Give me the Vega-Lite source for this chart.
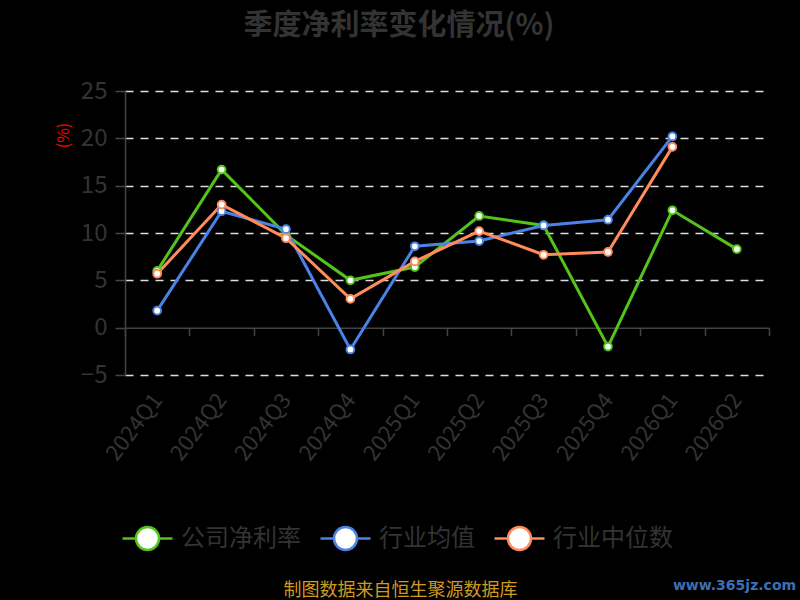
{
  "$schema": "https://vega.github.io/schema/vega-lite/v6.json",
  "autosize": "none",
  "width": 644,
  "height": 284,
  "padding": {"left": 125, "top": 91, "right": 31, "bottom": 225},
  "background": "#000000",
  "title": {
    "text": "季度净利率变化情况(%)",
    "font": "Noto Sans CJK SC",
    "fontSize": 29,
    "fontWeight": "bold",
    "color": "#333333",
    "anchor": "middle",
    "dx": -48,
    "offset": 38
  },
  "config": {
    "view": {"stroke": null},
    "font": "Noto Sans CJK SC"
  },
  "data": {
    "values": [
      {"quarter": "2024Q1", "series": "公司净利率", "value": 6.0},
      {"quarter": "2024Q2", "series": "公司净利率", "value": 16.7},
      {"quarter": "2024Q3", "series": "公司净利率", "value": 9.8},
      {"quarter": "2024Q4", "series": "公司净利率", "value": 5.0},
      {"quarter": "2025Q1", "series": "公司净利率", "value": 6.4},
      {"quarter": "2025Q2", "series": "公司净利率", "value": 11.8},
      {"quarter": "2025Q3", "series": "公司净利率", "value": 10.8},
      {"quarter": "2025Q4", "series": "公司净利率", "value": -2.0},
      {"quarter": "2026Q1", "series": "公司净利率", "value": 12.4},
      {"quarter": "2026Q2", "series": "公司净利率", "value": 8.3},
      {"quarter": "2024Q1", "series": "行业均值", "value": 1.8},
      {"quarter": "2024Q2", "series": "行业均值", "value": 12.3},
      {"quarter": "2024Q3", "series": "行业均值", "value": 10.4},
      {"quarter": "2024Q4", "series": "行业均值", "value": -2.3},
      {"quarter": "2025Q1", "series": "行业均值", "value": 8.6},
      {"quarter": "2025Q2", "series": "行业均值", "value": 9.15},
      {"quarter": "2025Q3", "series": "行业均值", "value": 10.8},
      {"quarter": "2025Q4", "series": "行业均值", "value": 11.4},
      {"quarter": "2026Q1", "series": "行业均值", "value": 20.2},
      {"quarter": "2024Q1", "series": "行业中位数", "value": 5.7},
      {"quarter": "2024Q2", "series": "行业中位数", "value": 13.0},
      {"quarter": "2024Q3", "series": "行业中位数", "value": 9.45},
      {"quarter": "2024Q4", "series": "行业中位数", "value": 3.05},
      {"quarter": "2025Q1", "series": "行业中位数", "value": 7.0},
      {"quarter": "2025Q2", "series": "行业中位数", "value": 10.2},
      {"quarter": "2025Q3", "series": "行业中位数", "value": 7.7},
      {"quarter": "2025Q4", "series": "行业中位数", "value": 8.0},
      {"quarter": "2026Q1", "series": "行业中位数", "value": 19.1}
    ]
  },
  "encoding": {
    "x": {
      "field": "quarter",
      "type": "ordinal",
      "scale": {"paddingInner": 0, "paddingOuter": 0},
      "axis": {
        "orient": "bottom",
        "offset": -47.3,
        "domainColor": "#444444",
        "domainWidth": 1.5,
        "tickColor": "#444444",
        "tickWidth": 1.5,
        "tickSize": 8,
        "tickBand": "extent",
        "labelAngle": -53,
        "labelAlign": "right",
        "labelBaseline": "middle",
        "labelPadding": 60,
        "labelFontSize": 22,
        "labelColor": "#333333",
        "labelFont": "Noto Sans CJK SC",
        "title": "制图数据来自恒生聚源数据库",
        "titleFont": "Noto Sans CJK SC",
        "titleFontSize": 18,
        "titleFontWeight": "normal",
        "titleColor": "#d09a1e",
        "titleX": 275,
        "titleY": 263,
        "titleBaseline": "middle",
        "titleAlign": "center"
      }
    },
    "y": {
      "field": "value",
      "type": "quantitative",
      "scale": {"domain": [-5, 25], "nice": false, "zero": false}
    },
    "color": {
      "field": "series",
      "type": "nominal",
      "scale": {
        "domain": ["公司净利率", "行业均值", "行业中位数"],
        "range": ["#52c41a", "#4b82e6", "#ff8c5a"]
      },
      "legend": {
        "orient": "none",
        "direction": "horizontal",
        "legendX": -4,
        "legendY": 421,
        "title": null,
        "symbolType": "M-1,0H-0.46M0.46,0H1M-0.46,0A0.46,0.46,0,1,1,0.46,0A0.46,0.46,0,1,1,-0.46,0Z",
        "symbolSize": 2500,
        "symbolStrokeWidth": 2.5,
        "symbolFillColor": "#ffffff",
        "labelFontSize": 24,
        "labelColor": "#333333",
        "labelFont": "Noto Sans CJK SC",
        "labelOffset": 7,
        "columnPadding": 14,
        "encode": {"symbols": {"update": {"fill": {"value": "#ffffff"}, "fillOpacity": {"value": 1}}}}
      }
    }
  },
  "layer": [
    {
      "mark": {"type": "line", "strokeWidth": 3},
      "encoding": {
        "y": {
          "field": "value",
          "type": "quantitative",
          "axis": {
            "orient": "left",
            "values": [-5, 0, 5, 10, 15, 20, 25],
            "domainColor": "#444444",
            "domainWidth": 1.5,
            "tickColor": "#444444",
            "tickWidth": 1.5,
            "tickSize": 10,
            "labelPadding": 8,
            "labelFontSize": 24,
            "labelColor": "#333333",
            "labelFont": "Noto Sans CJK SC",
            "grid": true,
            "gridColor": {"condition": {"test": "datum.value === 0", "value": "transparent"}, "value": "#dddddd"},
            "gridDash": [8, 7],
            "gridWidth": 1.5,
            "title": "(%)",
            "titleColor": "#ff0000",
            "titleFontSize": 16,
            "titleFontWeight": "normal",
            "titleFont": "Noto Sans CJK SC",
            "titleAngle": -90,
            "titleX": -62,
            "titleY": 44,
            "titleAlign": "center",
            "titleBaseline": "middle"
          }
        }
      }
    },
    {
      "mark": {"type": "point", "filled": false, "fill": "#ffffff", "fillOpacity": 1, "size": 60, "strokeWidth": 2, "opacity": 1},
      "encoding": {
        "y": {
          "field": "value",
          "type": "quantitative",
          "axis": {
            "orient": "right",
            "labels": false,
            "ticks": false,
            "domain": false,
            "grid": false,
            "title": "www.365jz.com",
            "titleColor": "#3d6fb5",
            "titleFontSize": 14,
            "titleFontWeight": "bold",
            "titleFont": "DejaVu Sans",
            "titleAngle": 0,
            "titleX": -35,
            "titleY": 494,
            "titleAlign": "center",
            "titleBaseline": "middle"
          }
        }
      }
    }
  ],
  "resolve": {"axis": {"y": "independent"}}
}
